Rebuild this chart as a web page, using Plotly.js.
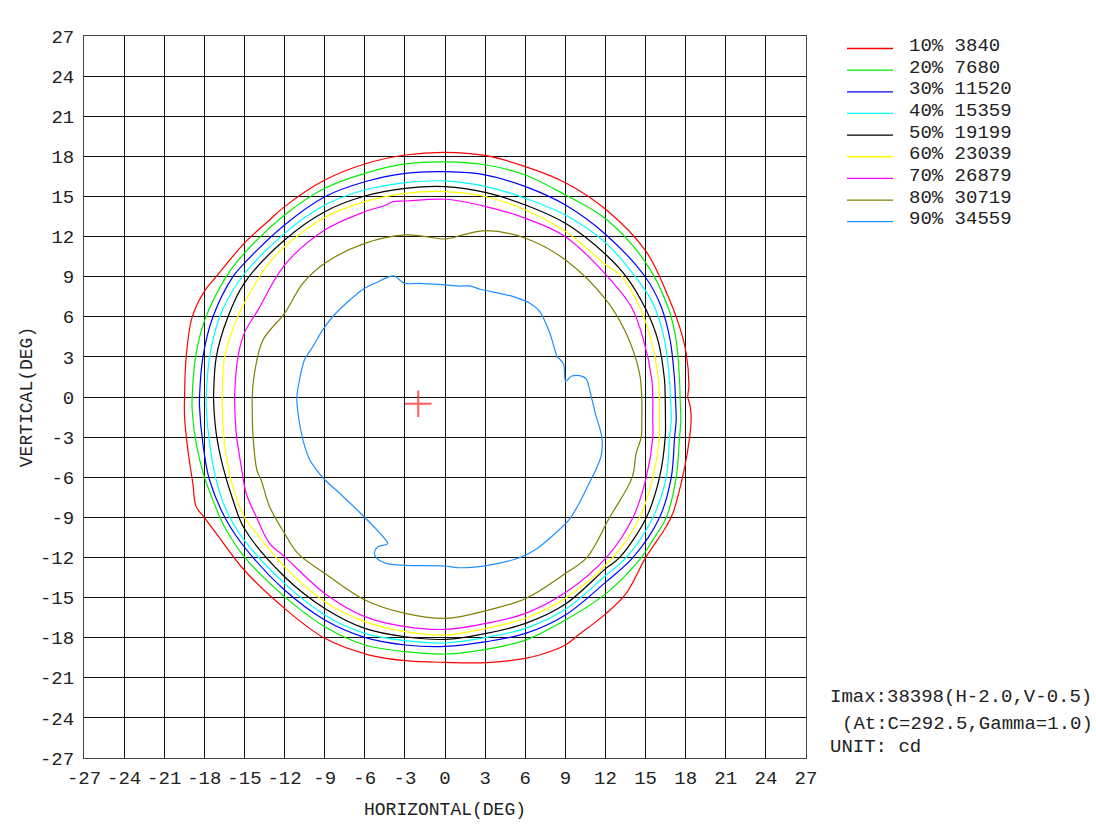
<!DOCTYPE html>
<html>
<head>
<meta charset="utf-8">
<script src="https://cdn.plot.ly/plotly-3.0.1.min.js"></script>
<style>html,body{margin:0;padding:0;background:#fff;}#chart{width:1096px;height:832px;}</style>
</head>
<body>
<div id="chart"></div>
<script>
// ---- Data (degrees) ----
const levelPct = ["10%", "20%", "30%", "40%", "50%", "60%", "70%", "80%", "90%"];
const levelCd = [3840, 7680, 11520, 15359, 19199, 23039, 26879, 30719, 34559];
const levelColors = ["#ff0000", "#00ee00", "#0000ff", "#00ffff", "#000000", "#ffff00", "#ff00ff", "#808000", "#1e90ff"];

const ticks = [-27, -24, -21, -18, -15, -12, -9, -6, -3, 0, 3, 6, 9, 12, 15, 18, 21, 24, 27];

const c10x = [0.0, 3.08, 6.02, 9.01, 12.06, 15.05, 16.54, 17.54, 18.04, 18.24, 18.16, 18.34, 18.41, 18.16, 17.66, 17.04, 16.54, 15.05, 13.55, 12.06, 9.81, 9.01, 7.07, 6.02, 3.08, 0.04, -2.97, -5.65, -8.99, -12.0, -15.02, -17.11, -18.01, -18.61, -18.86, -19.23, -19.48, -19.48, -19.36, -18.91, -18.01, -17.11, -15.02, -13.12, -12.0, -8.99, -6.0, -2.97, 0.0];
const c10y = [18.3, 18.05, 17.23, 16.03, 14.0, 10.87, 7.88, 5.26, 3.27, 0.77, 0.02, -0.72, -1.72, -3.96, -6.46, -8.7, -9.7, -11.94, -14.69, -16.18, -17.93, -18.55, -19.3, -19.55, -19.87, -19.85, -19.72, -19.3, -18.05, -15.81, -12.94, -10.2, -9.0, -8.2, -6.46, -3.96, -1.47, 0.0, 2.97, 5.98, 7.88, 9.0, 11.49, 13.24, 14.24, 16.23, 17.43, 18.1, 18.3];

const c20x = [0.04, 3.08, 6.02, 9.01, 12.06, 15.05, 16.67, 17.29, 17.54, 17.59, 17.64, 17.54, 17.29, 16.54, 15.54, 14.68, 12.06, 9.01, 6.02, 3.08, 0.04, -2.97, -6.0, -8.99, -12.0, -15.02, -16.36, -16.86, -17.36, -18.01, -18.61, -18.91, -18.91, -18.66, -18.01, -16.36, -15.02, -12.0, -8.99, -6.0, -2.97, 0.04];
const c20y = [17.58, 17.35, 16.6, 15.11, 13.3, 10.0, 6.75, 4.26, 1.27, -0.22, -1.72, -3.02, -6.03, -9.03, -10.7, -12.02, -14.69, -16.68, -18.18, -18.87, -19.22, -19.05, -18.55, -17.18, -14.93, -11.94, -9.95, -8.95, -7.7, -5.96, -3.47, -0.97, 0.0, 2.97, 5.64, 9.0, 10.74, 13.61, 15.61, 16.73, 17.43, 17.58];

const c30x = [0.04, 3.08, 6.02, 9.01, 12.06, 15.05, 16.17, 16.84, 17.17, 17.24, 17.29, 17.17, 16.92, 16.04, 14.05, 12.06, 9.01, 6.02, 3.08, 0.04, -2.97, -6.0, -8.99, -12.0, -15.02, -16.36, -17.61, -18.11, -18.36, -18.36, -18.11, -17.36, -15.86, -15.02, -12.0, -8.99, -6.0, -2.97, 0.04];
const c30y = [16.85, 16.6, 15.73, 14.36, 12.12, 8.88, 6.75, 4.26, 1.27, -0.22, -1.72, -3.02, -6.03, -9.03, -12.02, -13.81, -16.3, -17.68, -18.3, -18.65, -18.55, -17.98, -16.68, -14.44, -11.2, -9.2, -6.21, -3.47, -0.72, 0.0, 2.97, 5.98, 9.0, 9.99, 12.87, 14.98, 16.1, 16.73, 16.85];

const c40x = [0.04, 3.08, 6.02, 9.01, 12.06, 15.05, 15.67, 16.42, 16.79, 16.87, 16.92, 16.79, 16.54, 15.54, 13.55, 12.06, 9.01, 6.02, 3.08, 0.04, -2.97, -6.0, -8.99, -12.0, -15.02, -16.36, -17.11, -17.61, -17.86, -17.86, -17.61, -16.86, -15.36, -12.0, -8.99, -6.0, -2.97, 0.04];
const c40y = [16.16, 15.73, 14.86, 13.61, 11.49, 7.88, 6.75, 4.26, 1.27, -0.22, -1.72, -3.02, -6.03, -9.03, -12.02, -13.31, -15.88, -17.3, -17.98, -18.4, -18.22, -17.68, -16.3, -13.94, -10.7, -8.45, -6.21, -3.47, -0.72, 0.0, 2.97, 5.98, 8.75, 12.24, 14.36, 15.48, 16.03, 16.16];

const c50x = [0.04, 3.08, 6.02, 9.01, 12.06, 13.55, 15.05, 15.92, 16.42, 16.47, 16.49, 16.47, 16.04, 15.05, 13.05, 12.06, 9.01, 6.02, 3.08, 0.04, -2.97, -6.0, -8.99, -12.0, -15.02, -15.86, -16.61, -17.11, -17.31, -17.31, -17.11, -16.24, -15.02, -12.0, -8.99, -6.0, -2.97, 0.04];
const c50y = [15.73, 15.28, 14.36, 12.99, 10.62, 9.0, 6.5, 4.26, 1.27, -0.22, -1.72, -3.02, -6.03, -9.03, -12.02, -12.8, -15.48, -16.93, -17.68, -18.13, -17.93, -17.3, -15.81, -13.44, -9.82, -7.7, -5.21, -2.72, -0.22, 0.0, 2.97, 5.98, 8.5, 11.74, 13.86, 15.03, 15.61, 15.73];

const c60x = [0.04, 3.08, 6.02, 9.01, 12.06, 13.25, 14.55, 15.42, 15.97, 16.04, 16.04, 16.04, 15.54, 14.55, 12.55, 9.01, 6.02, 3.08, 0.04, -2.97, -6.0, -8.99, -12.0, -14.12, -15.02, -15.99, -16.49, -16.66, -16.66, -16.49, -15.61, -15.02, -13.37, -12.0, -8.99, -6.0, -2.97, 0.04];
const c60y = [15.36, 14.98, 13.99, 12.37, 9.87, 9.0, 6.75, 4.26, 1.27, -0.22, -1.72, -3.02, -6.03, -9.03, -12.02, -15.06, -16.55, -17.3, -17.8, -17.55, -16.8, -15.31, -12.69, -10.2, -8.95, -6.21, -3.47, -0.72, 0.0, 2.97, 5.76, 7.0, 9.75, 11.24, 13.43, 14.61, 15.23, 15.36];

const c70x = [0.04, 3.08, 6.02, 9.01, 12.06, 13.93, 14.85, 15.47, 15.54, 15.54, 15.54, 15.05, 14.05, 12.06, 9.01, 6.02, 3.08, 0.04, -2.97, -6.0, -8.99, -12.0, -13.12, -14.12, -14.87, -15.24, -15.61, -15.74, -15.74, -15.49, -15.02, -13.99, -12.0, -8.99, -6.0, -4.4, -3.9, -2.97, 0.04];
const c70y = [14.79, 14.24, 13.36, 11.99, 9.12, 6.75, 4.26, 1.27, -0.22, -1.72, -3.02, -6.03, -9.03, -12.02, -14.63, -16.18, -16.93, -17.38, -17.18, -16.43, -14.69, -11.94, -10.94, -8.95, -7.2, -5.21, -2.72, -0.22, 0.0, 2.97, 4.76, 6.5, 9.87, 12.49, 13.86, 14.36, 14.61, 14.66, 14.79];

const c80x = [0.04, 1.33, 3.08, 6.02, 9.01, 12.06, 13.55, 14.55, 14.72, 14.72, 14.67, 14.3, 13.99, 12.3, 10.6, 9.01, 6.12, 3.08, 0.04, -2.97, -6.0, -8.99, -11.01, -12.0, -13.12, -13.75, -14.07, -14.37, -14.42, -14.42, -14.25, -13.62, -12.0, -10.63, -8.99, -6.0, -2.97, -1.41, 0.04];
const c80y = [11.82, 12.12, 12.44, 11.87, 10.25, 7.25, 4.76, 1.77, -0.22, -1.72, -3.02, -4.2, -6.03, -9.03, -12.02, -13.19, -15.03, -15.98, -16.55, -16.18, -15.18, -13.19, -11.69, -10.2, -8.2, -6.21, -5.46, -2.72, -0.22, 0.0, 1.77, 4.26, 6.26, 8.5, 10.0, 11.49, 12.12, 11.99, 11.82];

const c90x = [-3.78, -3.04, -1.92, 0.0, 1.07, 1.83, 2.63, 5.11, 6.35, 7.09, 7.84, 8.4, 8.58, 8.88, 9.02, 9.45, 10.07, 10.56, 10.93, 11.3, 11.6, 11.75, 11.68, 11.3, 10.81, 10.07, 9.32, 8.33, 6.84, 5.57, 3.33, 1.07, 0.0, -2.99, -4.41, -5.15, -5.28, -5.03, -4.28, -4.9, -5.98, -7.64, -9.01, -9.63, -10.13, -10.63, -11.0, -11.08, -10.88, -10.51, -9.88, -9.14, -8.39, -7.39, -6.02, -5.15, -4.16, -3.78];
const c90y = [9.05, 8.5, 8.5, 8.38, 8.3, 8.31, 8.06, 7.51, 7.01, 6.39, 4.78, 2.99, 2.84, 2.42, 1.18, 1.55, 1.6, 1.35, 0.06, -1.43, -2.42, -3.17, -4.41, -5.4, -6.4, -7.89, -9.13, -10.12, -11.37, -12.02, -12.57, -12.77, -12.64, -12.59, -12.44, -12.02, -11.65, -11.2, -10.97, -10.15, -9.03, -7.42, -6.17, -5.43, -4.68, -3.19, -1.2, 0.0, 1.29, 2.78, 3.78, 5.02, 6.02, 7.01, 8.13, 8.55, 9.0, 9.05];

const imaxH = [-2.0];
const imaxV = [-0.5];
const infoLines = ["Imax:38398(H-2.0,V-0.5)", "(At:C=292.5,Gamma=1.0)", "UNIT: cd"];
const xTitle = "HORIZONTAL(DEG)";
const yTitle = "VERTICAL(DEG)";

// ---- Build ----
const contoursX = [c10x, c20x, c30x, c40x, c50x, c60x, c70x, c80x, c90x];
const contoursY = [c10y, c20y, c30y, c40y, c50y, c60y, c70y, c80y, c90y];
const FONT = "Liberation Mono, Courier New, monospace";
const TXT = "#222";

const traces = contoursX.map((xs, i) => ({
  type: "scatter", mode: "lines",
  x: xs, y: contoursY[i],
  name: levelPct[i] + " " + levelCd[i],
  line: {color: levelColors[i], width: 1.2, shape: "spline", smoothing: i === 8 ? 0.8 : 1.0},
  hoverinfo: "skip", showlegend: false
}));
traces.push({
  type: "scatter", mode: "markers", x: imaxH, y: imaxV, showlegend: false, hoverinfo: "skip",
  marker: {symbol: "cross-thin", size: 19, color: "rgba(255,40,40,0.75)", line: {color: "rgba(255,40,40,0.75)", width: 2}}
});

// geometry helpers (paper coords)
const L = 84, T = 36, W = 722, H = 722;
const px2x = p => (p - L) / W;
const py2y = p => (T + H - p) / H;

const shapes = [];
const annotations = [];
levelPct.forEach((p, i) => {
  const yc = 46 + 21.65 * i;
  shapes.push({type: "line", xref: "paper", yref: "paper",
    x0: px2x(847), x1: px2x(893), y0: py2y(yc + 2.5), y1: py2y(yc + 2.5),
    line: {color: levelColors[i], width: 1.3}});
  annotations.push({xref: "paper", yref: "paper", x: px2x(907), y: py2y(yc),
    xanchor: "left", yanchor: "middle", showarrow: false,
    text: p + " " + levelCd[i], font: {family: FONT, size: 19, color: TXT}});
});
const infoX = [828, 840, 828];
const infoY = [697, 724, 747];
infoLines.forEach((t, i) => {
  annotations.push({xref: "paper", yref: "paper", x: px2x(infoX[i]), y: py2y(infoY[i]),
    xanchor: "left", yanchor: "middle", showarrow: false,
    text: t, font: {family: FONT, size: 19, color: TXT}});
});

const axisCommon = {
  range: [-27, 27], tickmode: "array", tickvals: ticks, ticktext: ticks.map(String),
  showgrid: true, gridcolor: "#111", gridwidth: 1, zeroline: false,
  showline: true, mirror: true, linecolor: "#444", linewidth: 1,
  ticks: "", tickfont: {family: FONT, size: 19, color: TXT}, fixedrange: true
};

const layout = {
  width: 1096, height: 832,
  margin: {l: L, r: 1096 - L - W, t: T, b: 832 - T - H, pad: 0},
  paper_bgcolor: "#fff", plot_bgcolor: "#fff",
  font: {family: FONT, color: TXT},
  xaxis: Object.assign({}, axisCommon, {
    ticklabelstandoff: 2,
    title: {text: xTitle, font: {family: FONT, size: 18, color: TXT}, standoff: 13}
  }),
  yaxis: Object.assign({}, axisCommon, {
    ticklabelstandoff: 5,
    title: {text: yTitle, font: {family: FONT, size: 18, color: TXT}, standoff: 2}
  }),
  showlegend: false,
  shapes: shapes,
  annotations: annotations
};

Plotly.newPlot("chart", traces, layout, {displayModeBar: false, staticPlot: true});
</script>
</body>
</html>
